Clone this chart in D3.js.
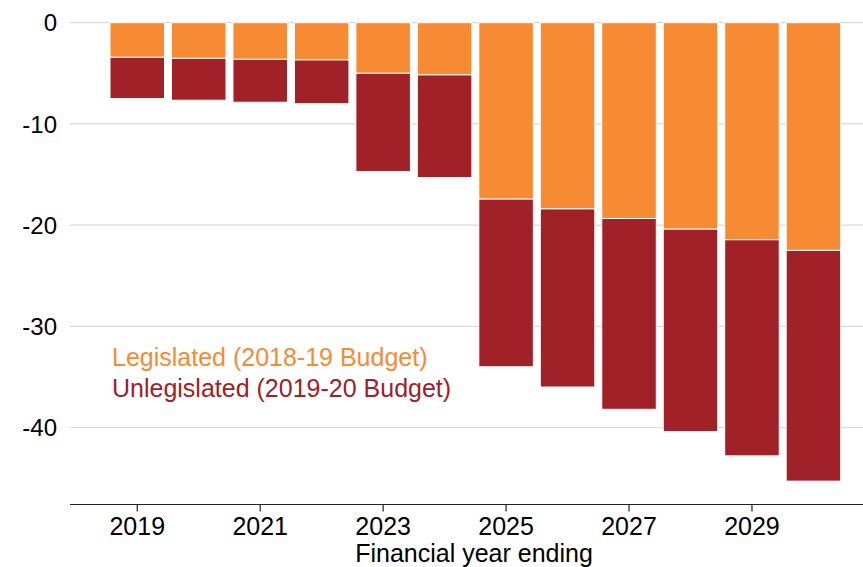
<!DOCTYPE html>
<html><head><meta charset="utf-8">
<script src="https://cdn.jsdelivr.net/npm/d3@7"></script>
<style>body{margin:0;background:#fff}svg{display:block;font-family:"Liberation Sans",Arial,Helvetica,sans-serif}</style>
</head><body>
<svg id="c" width="863" height="567"></svg>
<script>
const years = [2019,2020,2021,2022,2023,2024,2025,2026,2027,2028,2029,2030];
const legislated = [-3.42,-3.52,-3.62,-3.68,-5.0,-5.16,-17.43,-18.4,-19.35,-20.4,-21.45,-22.5];
const unlegislated = [-4.08,-4.14,-4.24,-4.32,-9.7,-10.14,-16.57,-17.6,-18.85,-20.0,-21.35,-22.8];
const yTicks = [0,-10,-20,-30,-40];
const xTickYears = [2019,2021,2023,2025,2027,2029];
const seriesNames = ["Legislated (2018-19 Budget)","Unlegislated (2019-20 Budget)"];
const colors = ["#F68B33","#A02128"];

const svg = d3.select("#c");
const y = d3.scaleLinear().domain([0,-10]).range([22.7,123.9]);
const x = d3.scaleBand().domain(years).range([110,840.7]).paddingInner(0.113).paddingOuter(0);

// grid
svg.append("g").selectAll("line").data(yTicks).join("line")
  .attr("x1",70).attr("x2",863).attr("y1",d=>y(d)).attr("y2",d=>y(d))
  .attr("stroke","#d9d9d9").attr("stroke-width",1.2);
// y labels
svg.append("g").selectAll("text").data(yTicks).join("text")
  .attr("x",57).attr("y",d=>y(d)).attr("dy","0.36em").attr("text-anchor","end")
  .attr("font-size",24).attr("fill","#000").text(d=>d);

// stacked bars
const rows = years.map((yr,i)=>({year:yr, leg:legislated[i], unleg:unlegislated[i]}));
const g = svg.append("g");
g.selectAll("rect.leg").data(rows).join("rect").attr("class","leg")
  .attr("x",d=>x(d.year)).attr("width",x.bandwidth())
  .attr("y",y(0)).attr("height",d=>y(d.leg)-y(0))
  .attr("fill",colors[0]).attr("stroke","#fff").attr("stroke-width",1);
g.selectAll("rect.unleg").data(rows).join("rect").attr("class","unleg")
  .attr("x",d=>x(d.year)).attr("width",x.bandwidth())
  .attr("y",d=>y(d.leg)).attr("height",d=>y(d.leg+d.unleg)-y(d.leg))
  .attr("fill",colors[1]).attr("stroke","#fff").attr("stroke-width",1);

// x axis
const axY = 504.5;
svg.append("line").attr("x1",70).attr("x2",863).attr("y1",axY).attr("y2",axY)
  .attr("stroke","#222").attr("stroke-width",1.2);
const xt = svg.append("g").selectAll("g").data(xTickYears).join("g")
  .attr("transform",d=>`translate(${x(d)+x.bandwidth()/2},${axY})`);
xt.append("line").attr("y2",7).attr("stroke","#222").attr("stroke-width",1.2);
xt.append("text").attr("y",30).attr("text-anchor","middle").attr("font-size",25).text(d=>d);
svg.append("text").attr("x",474).attr("y",562).attr("text-anchor","middle")
  .attr("font-size",25).text("Financial year ending");

// legend
svg.append("g").selectAll("text").data(seriesNames).join("text")
  .attr("x",112).attr("y",(d,i)=>365.5+i*31).attr("font-size",25)
  .attr("fill",(d,i)=>colors[i]).text(d=>d);
</script>
</body></html>
